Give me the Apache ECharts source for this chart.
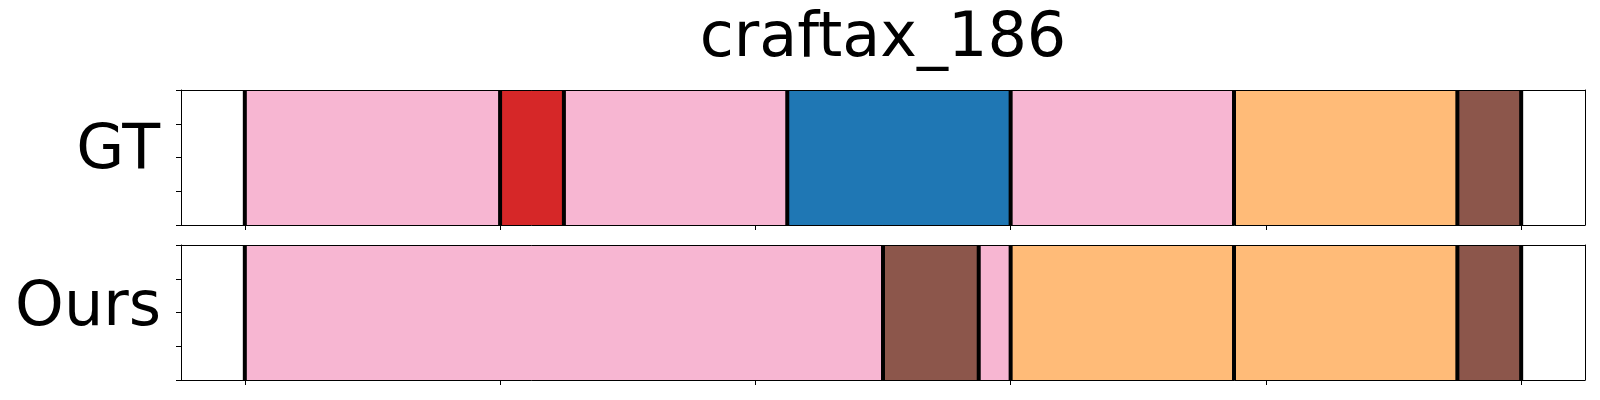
<!DOCTYPE html>
<html>
<head>
<meta charset="utf-8">
<script src="https://cdn.jsdelivr.net/npm/echarts@6/dist/echarts.min.js"></script>
<style>html,body{margin:0;padding:0;background:#fff}#c{width:1600px;height:400px}</style>
</head>
<body>
<div id="c"></div>
<script>
// ---- data ----
const title = 'craftax_186';
const rowLabels = ['GT', 'Ours'];
const gtBounds = [0, 50, 62.5, 106.25, 150, 193.75, 237.5, 250];
const gtClasses = ['pink', 'red', 'pink', 'blue', 'pink', 'orange', 'brown'];
const oursBounds = [0, 125, 143.75, 150, 193.75, 237.5, 250];
const oursClasses = ['pink', 'brown', 'pink', 'orange', 'orange', 'brown'];
const xTicks = [0, 50, 100, 150, 200, 250];
const yTicks = [0, 0.25, 0.5, 0.75, 1];

const palette = {pink: '#f7b6d2', red: '#d62728', blue: '#1f77b4', orange: '#ffbb78', brown: '#8c564b'};

function segData(bounds, classes) {
  return classes.map((c, i) => [bounds[i], bounds[i + 1], c]);
}
const chart = echarts.init(document.getElementById('c'), null, {renderer: 'canvas'});

const grids = [
  {left: 181, width: 1404, top: 90, height: 135},
  {left: 181, width: 1404, top: 245, height: 135}
];
const xAxes = [], yAxes = [], series = [];
[[gtBounds, gtClasses], [oursBounds, oursClasses]].forEach((row, gi) => {
  xAxes.push({
    gridIndex: gi, type: 'value', min: -12.5, max: 262.5, position: 'bottom', z: 10,
    axisLine: {show: true, onZero: false, lineStyle: {color: '#000', width: 1}},
    axisTick: {show: true, length: 5, inside: false, customValues: xTicks, lineStyle: {color: '#000', width: 1}},
    axisLabel: {show: false}, splitLine: {show: false}
  });
  xAxes.push({
    gridIndex: gi, type: 'value', min: -12.5, max: 262.5, position: 'top', z: 10,
    axisLine: {show: true, onZero: false, lineStyle: {color: '#000', width: 1}},
    axisTick: {show: false}, axisLabel: {show: false}, splitLine: {show: false}
  });
  yAxes.push({
    gridIndex: gi, type: 'value', min: 0, max: 1, interval: 0.25, position: 'left', z: 10,
    axisLine: {show: true, onZero: false, lineStyle: {color: '#000', width: 1}},
    axisTick: {show: true, length: 5, customValues: yTicks, lineStyle: {color: '#000', width: 1}},
    axisLabel: {show: false}, splitLine: {show: false}
  });
  yAxes.push({
    gridIndex: gi, type: 'value', min: 0, max: 1, position: 'right', z: 10,
    axisLine: {show: true, onZero: false, lineStyle: {color: '#000', width: 1}},
    axisTick: {show: false}, axisLabel: {show: false}, splitLine: {show: false}
  });
  const bounds = row[0], classes = row[1];
  series.push({
    type: 'custom', xAxisIndex: gi * 2, yAxisIndex: gi * 2, z: 2,
    data: segData(bounds, classes),
    renderItem: function (params, api) {
      const p0 = api.coord([api.value(0), 1]);
      const p1 = api.coord([api.value(1), 0]);
      const cls = classes[params.dataIndex];
      return {type: 'rect', shape: {x: p0[0], y: p0[1], width: p1[0] - p0[0], height: p1[1] - p0[1]},
        style: {fill: palette[cls], stroke: null}};
    }
  });
  series.push({
    type: 'custom', xAxisIndex: gi * 2, yAxisIndex: gi * 2, z: 3,
    data: bounds.map(b => [b]),
    renderItem: function (params, api) {
      const a = api.coord([api.value(0), 1]);
      const b = api.coord([api.value(0), 0]);
      return {type: 'line', shape: {x1: a[0], y1: a[1], x2: b[0], y2: b[1]},
        style: {stroke: '#000', lineWidth: 4}};
    }
  });
});

chart.setOption({
  animation: false,
  backgroundColor: '#fff',
  grid: grids,
  xAxis: xAxes,
  yAxis: yAxes,
  series: series,
  graphic: [
    {type: 'text', x: 883, y: 40, z: 20,
      style: {text: title, font: '62px "DejaVu Sans"', fill: '#000', align: 'center', verticalAlign: 'middle'}},
    {type: 'text', x: 160, y: 152, z: 20,
      style: {text: rowLabels[0], font: '62px "DejaVu Sans"', fill: '#000', align: 'right', verticalAlign: 'middle'}},
    {type: 'text', x: 161, y: 309, z: 20,
      style: {text: rowLabels[1], font: '62px "DejaVu Sans"', fill: '#000', align: 'right', verticalAlign: 'middle'}}
  ]
});
</script>
</body>
</html>
